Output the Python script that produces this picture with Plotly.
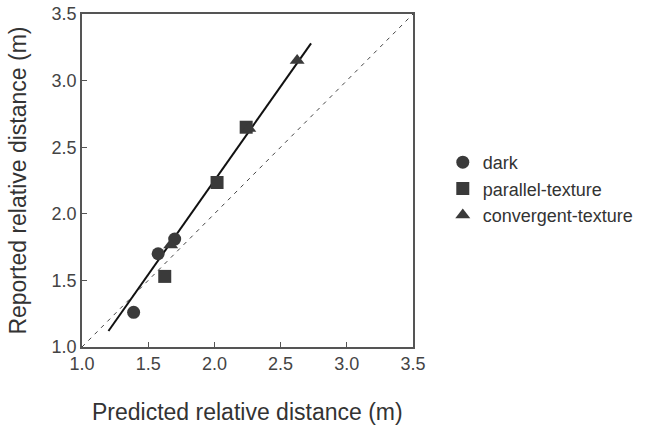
import numpy as np
import plotly.graph_objects as go

# values
dark_x = [1.39, 1.575, 1.70]
dark_y = [1.26, 1.70, 1.81]
parallel_x = [1.625, 2.02, 2.24]
parallel_y = [1.53, 2.235, 2.65]
convergent_x = [1.67, 2.26, 2.625]
convergent_y = [1.765, 2.64, 3.15]

fit_x = [1.2, 2.73]
fit_y = [1.12, 3.28]
identity = [1.0, 3.5]

tick_vals = [1.0, 1.5, 2.0, 2.5, 3.0, 3.5]

mark_color = "#3a3a3a"
font_family = "Liberation Sans, Arial, sans-serif"

fig = go.Figure()

# 1:1 reference line
fig.add_trace(
    go.Scatter(
        x=identity, y=identity, mode="lines",
        line=dict(color="#444444", width=1, dash="4px,5px"),
        showlegend=False, hoverinfo="skip",
    )
)
# fitted line
fig.add_trace(
    go.Scatter(
        x=fit_x, y=fit_y, mode="lines",
        line=dict(color="#111111", width=2),
        showlegend=False, hoverinfo="skip",
    )
)

series = [
    ("dark", dark_x, dark_y, "circle"),
    ("parallel-texture", parallel_x, parallel_y, "square"),
    ("convergent-texture", convergent_x, convergent_y, "triangle-up"),
]
for name, xs, ys, sym in series:
    fig.add_trace(
        go.Scatter(
            x=xs, y=ys, mode="markers", name=name,
            marker=dict(symbol=sym, size=13, color=mark_color, line=dict(width=0)),
        )
    )

axis_common = dict(
    range=[1.0, 3.5],
    tickvals=tick_vals,
    tickformat=".1f",
    ticks="inside",
    ticklen=5,
    tickcolor="#555555",
    showline=True,
    linecolor="#555555",
    linewidth=1.5,
    mirror=True,
    showgrid=False,
    zeroline=False,
    automargin=False,
    ticklabeloverflow="allow",
    tickfont=dict(size=18, color="#444444"),
)

fig.update_layout(
    width=654,
    height=429,
    margin=dict(l=82, r=241, t=14, b=82),
    paper_bgcolor="white",
    plot_bgcolor="white",
    font=dict(family=font_family, color="#333333"),
    xaxis=dict(**axis_common),
    yaxis=dict(**axis_common),
    legend=dict(
        x=1.09, y=0.4745, xanchor="left", yanchor="middle",
        font=dict(size=18, color="#333333"),
        bgcolor="rgba(0,0,0,0)",
    ),
    annotations=[
        dict(
            text="Predicted relative distance (m)", xref="paper", yref="paper",
            x=0.5, y=-0.195, xanchor="center", yanchor="middle", showarrow=False,
            font=dict(size=23, color="#333333"),
        ),
        dict(
            text="Reported relative distance (m)", xref="paper", yref="paper",
            x=-0.196, y=0.5, xanchor="center", yanchor="middle", showarrow=False,
            textangle=-90, font=dict(size=23, color="#333333"),
        ),
    ],
)

# drop the browser's default body margin so the figure fills the window
fig.write_html(
    "out.html",
    config={"displayModeBar": False},
    post_script="document.body.style.margin = '0';",
)
